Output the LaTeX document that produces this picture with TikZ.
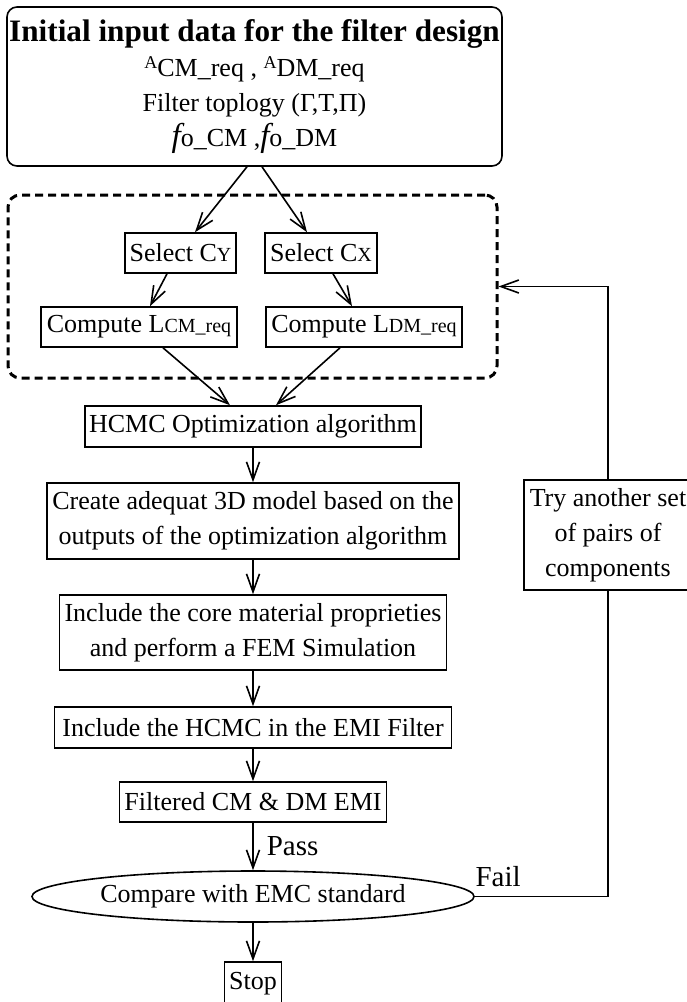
\documentclass[tikz,border=0pt]{standalone}
\usepackage{fontspec}
\setmainfont{Liberation Serif}
\usetikzlibrary{shapes.geometric,arrows.meta,calc}
\tikzstyle{box} = [draw,line width=0.8pt,inner sep=1pt,align=center,font=\fontsize{13}{17.5}\selectfont]
\tikzstyle{group} = [draw,line width=1.5pt,dash pattern=on 4pt off 2.5pt,rounded corners=6pt]
\tikzstyle{arrow} = [line width=0.8pt,-{Straight Barb[length=9pt,width=6.5pt]}]
\tikzstyle{line} = [line width=0.8pt]
\newcommand{\idx}[1]{{\fontsize{10}{10}\selectfont #1}}
\newcommand{\upA}{\raisebox{4pt}{\fontsize{9}{9}\selectfont A}}
\newcommand{\bigf}{{\fontsize{16.5}{16.5}\selectfont\itshape f}}

\begin{document}
\begin{tikzpicture}[x=0.5pt,y=-0.5pt]
\useasboundingbox (0,0) rectangle (686,1002);

\node[box,rounded corners=5pt,minimum width=247.5pt,minimum height=79.5pt] (input) at (254.5,86.5)
	{{\fontsize{15.6}{17.5}\selectfont\bfseries Initial input data for the filter design}\\
	\upA CM\_req , \upA DM\_req\\
	Filter toplogy (Γ,T,Π)\\
	\bigf o\_CM ,\bigf o\_DM};

\node[group,minimum width=244.5pt,minimum height=91.5pt] (grp) at (252.5,286.5) {};

\node[box,minimum width=55.5pt,minimum height=20pt] (selcy) at (180.5,253) {Select C\idx{Y}};
\node[box,minimum width=56pt,minimum height=20pt] (selcx) at (321,253) {Select C\idx{X}};
\node[box,minimum width=98pt,minimum height=20pt] (compcm) at (139,327) {Compute L\idx{CM\_req}};
\node[box,minimum width=98pt,minimum height=20pt] (compdm) at (364,327) {Compute L\idx{DM\_req}};

\node[box,minimum width=168pt,minimum height=20.5pt] (hcmc) at (253,426.5) {HCMC Optimization algorithm};
\node[box,minimum width=206.25pt,minimum height=38pt] (model) at (253,521)
	{Create adequat 3D model based on the\\outputs of the optimization algorithm};
\node[box,minimum width=193.5pt,minimum height=37.5pt] (fem) at (253,632.5)
	{Include the core material proprieties\\and perform a FEM Simulation};
\node[box,minimum width=198.5pt,minimum height=20.5pt] (incl) at (253,727.5) {Include the HCMC in the EMI Filter};
\node[box,minimum width=133.5pt,minimum height=20pt] (filt) at (253,802) {Filtered CM \& DM EMI};
\node[box,ellipse,inner sep=0pt,minimum width=221pt,minimum height=25.5pt] (cmp) at (253,896.5) {Compare with EMC standard};
\node[box,minimum width=28.5pt,minimum height=22pt] (stop) at (253,984) {Stop};

\node[box,minimum width=84pt,minimum height=55pt] (retry) at (608,535)
	{Try another set\\of pairs of\\components};

% connectors
\draw[arrow] ($(input.south)+(-7.5,0)$) -- ($(selcy.north)+(14.5,0)$);
\draw[arrow] ($(input.south)+(7.5,0)$) -- ($(selcx.north)+(-14,0)$);
\draw[arrow] ($(selcy.south)+(-13.5,0)$) -- ($(compcm.north)+(11,0)$);
\draw[arrow] ($(selcx.south)+(12,0)$) -- ($(compdm.north)+(-12,0)$);
\draw[arrow] ($(compcm.south)+(24,0)$) -- ($(hcmc.north)+(-23,0)$);
\draw[arrow] ($(compdm.south)+(-24,0)$) -- ($(hcmc.north)+(23,0)$);

\foreach \a/\b in {hcmc/model,model/fem,fem/incl,incl/filt,cmp/stop}{
	\draw[arrow] (\a) -- (\b);
}
\draw[arrow] (filt) -- node[right,inner sep=6.5pt,font=\fontsize{14.5}{14.5}\selectfont] {Pass} (cmp);

\draw[line] (cmp.east) -- node[pos=0,anchor=south west,inner xsep=0pt,inner ysep=4.5pt,font=\fontsize{14.5}{14.5}\selectfont] {Fail} (cmp.east -| retry.south) -- (retry.south);
\draw[arrow] (retry.north) |- (grp.east);
\end{tikzpicture}
\end{document}
